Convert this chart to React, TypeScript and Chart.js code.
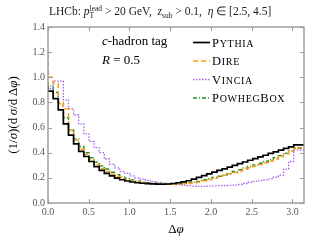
import React, { useEffect, useRef } from "react";
import { Chart, registerables } from "chart.js";

Chart.register(...registerables);

const NBINS = 50;
const XMAX = Math.PI;
const xTicks = [0, 0.5, 1.0, 1.5, 2.0, 2.5, 3.0];
const yTicks = [0, 0.2, 0.4, 0.6, 0.8, 1.0, 1.2, 1.4];

const pythia = [
  0.93, 0.89, 0.83, 0.74, 0.63, 0.54, 0.47, 0.41, 0.37, 0.33,
  0.29, 0.26, 0.235, 0.215, 0.198, 0.185, 0.175, 0.167, 0.161, 0.157,
  0.154, 0.152, 0.150, 0.149, 0.151, 0.155, 0.161, 0.168, 0.177, 0.19,
  0.204, 0.218, 0.232, 0.245, 0.259, 0.272, 0.286, 0.299, 0.313, 0.326,
  0.34, 0.353, 0.367, 0.38, 0.394, 0.407, 0.42, 0.434, 0.447, 0.462,
];
const dire = [
  1.19, 1.0, 0.95, 0.8, 0.75, 0.58, 0.5, 0.43, 0.385, 0.345,
  0.305, 0.275, 0.25, 0.228, 0.21, 0.195, 0.183, 0.174, 0.167, 0.161,
  0.157, 0.154, 0.152, 0.151, 0.15, 0.15, 0.151, 0.153, 0.156, 0.16,
  0.166, 0.177, 0.186, 0.196, 0.207, 0.219, 0.231, 0.243, 0.255, 0.268,
  0.28, 0.293, 0.306, 0.32, 0.335, 0.35, 0.368, 0.39, 0.415, 0.44,
];
const vincia = [
  0.9, 0.91, 0.97, 0.97, 0.82, 0.75, 0.7, 0.63, 0.55, 0.49,
  0.44, 0.4, 0.35, 0.31, 0.28, 0.25, 0.235, 0.215, 0.2, 0.19,
  0.18, 0.17, 0.163, 0.157, 0.152, 0.15, 0.147, 0.143, 0.138, 0.134,
  0.132, 0.133, 0.135, 0.137, 0.138, 0.139, 0.14, 0.142, 0.147, 0.155,
  0.165, 0.172, 0.178, 0.184, 0.192, 0.205, 0.222, 0.27, 0.33, 0.42,
];
const powheg = [
  0.96, 0.93, 0.88, 0.79, 0.68, 0.58, 0.51, 0.45, 0.4, 0.36,
  0.325, 0.295, 0.27, 0.245, 0.225, 0.208, 0.195, 0.184, 0.175, 0.168,
  0.162, 0.158, 0.155, 0.153, 0.152, 0.152, 0.153, 0.156, 0.16, 0.165,
  0.171, 0.185, 0.193, 0.203, 0.213, 0.224, 0.236, 0.25, 0.265, 0.278,
  0.29, 0.303, 0.316, 0.33, 0.345, 0.36, 0.377, 0.395, 0.415, 0.435,
];

const seriesNames = ["Pythia", "Dire", "Vincia", "PowhegBox"];
const colors = ["#000000", "#ff9a1a", "#a860f0", "#1f8f1f"];
const dashes: number[][] = [[], [5, 3], [1.5, 1.5], [4, 2, 1, 2]];
const widths = [1.7, 1.5, 1.3, 1.4];

const FAM = "'Liberation Serif', serif";

type Seg = { t: string; s: number; i?: boolean; dy?: number; stack?: boolean };

function richWidth(ctx: CanvasRenderingContext2D, segs: Seg[]) {
  let x = 0, lastStart = 0;
  for (const sg of segs) {
    ctx.font = `${sg.i ? "italic " : ""}${sg.s}px ${FAM}`;
    const w = ctx.measureText(sg.t).width;
    const start = sg.stack ? lastStart : x;
    if (sg.stack) x = Math.max(x, start + w);
    else { lastStart = start; x = start + w; }
  }
  return x;
}

function drawRich(ctx: CanvasRenderingContext2D, x0: number, y: number, segs: Seg[]) {
  let x = x0, lastStart = x0;
  ctx.textBaseline = "alphabetic";
  ctx.textAlign = "left";
  for (const sg of segs) {
    ctx.font = `${sg.i ? "italic " : ""}${sg.s}px ${FAM}`;
    const w = ctx.measureText(sg.t).width;
    const start = sg.stack ? lastStart : x;
    ctx.fillText(sg.t, start, y + (sg.dy || 0));
    if (sg.stack) x = Math.max(x, start + w);
    else { lastStart = start; x = start + w; }
  }
  return x;
}

function smallCaps(name: string): Seg[] {
  const segs: Seg[] = [];
  for (const ch of name) {
    if (ch === ch.toUpperCase()) segs.push({ t: ch, s: 12.5 });
    else {
      const last = segs[segs.length - 1];
      if (last && last.s === 10) last.t += ch.toUpperCase();
      else segs.push({ t: ch.toUpperCase(), s: 10 });
    }
  }
  return segs;
}

function toSteps(vals: number[]) {
  const w = XMAX / NBINS;
  const pts = vals.map((v, i) => ({ x: i * w, y: v }));
  pts.push({ x: XMAX, y: vals[vals.length - 1] });
  return pts;
}

const overlay = {
  id: "overlay",
  afterDraw(chart: any) {
    const ctx: CanvasRenderingContext2D = chart.ctx;
    const { left, right, top, bottom } = chart.chartArea;
    const xs = chart.scales.x, ys = chart.scales.y;
    ctx.save();
    // frame
    ctx.strokeStyle = "#999";
    ctx.lineWidth = 1.4;
    ctx.strokeRect(left, top, right - left, bottom - top);
    ctx.lineWidth = 1;
    ctx.beginPath();
    for (const t of xTicks) {
      const px = Math.round(xs.getPixelForValue(t)) + 0.5;
      ctx.moveTo(px, bottom); ctx.lineTo(px, bottom - 4);
      ctx.moveTo(px, top); ctx.lineTo(px, top + 4);
    }
    for (const t of yTicks) {
      const py = Math.round(ys.getPixelForValue(t)) + 0.5;
      ctx.moveTo(left, py); ctx.lineTo(left + 4, py);
      ctx.moveTo(right, py); ctx.lineTo(right - 4, py);
    }
    ctx.stroke();

    ctx.fillStyle = "#222";
    // title
    drawRich(ctx, 49, 15, [
      { t: "LHCb: ", s: 11.5 },
      { t: "p", s: 11.5, i: true },
      { t: "lead", s: 7.5, dy: -4.5 },
      { t: "T", s: 7.5, dy: 2.5, stack: true },
      { t: " > 20 GeV,  ", s: 11.5 },
      { t: "z", s: 11.5, i: true },
      { t: "sub", s: 7.5, dy: 2.5 },
      { t: " > 0.1,  ", s: 11.5 },
      { t: "η", s: 11.5, i: true },
      { t: " ∈ [2.5, 4.5]", s: 11.5 },
    ]);

    ctx.fillStyle = "#000";
    drawRich(ctx, 102, 45, [
      { t: "c", s: 13, i: true },
      { t: "-hadron tag", s: 13 },
    ]);
    drawRich(ctx, 102, 64, [
      { t: "R", s: 13, i: true },
      { t: " = 0.5", s: 13 },
    ]);

    // legend
    const ly = [42.5, 61, 79.5, 98];
    for (let k = 0; k < 4; k++) {
      ctx.strokeStyle = colors[k];
      ctx.lineWidth = widths[k];
      ctx.setLineDash(dashes[k]);
      ctx.beginPath();
      ctx.moveTo(193, ly[k]);
      ctx.lineTo(210, ly[k]);
      ctx.stroke();
      ctx.setLineDash([]);
      ctx.fillStyle = "#000";
      (ctx as any).letterSpacing = "0.7px";
      drawRich(ctx, 212, ly[k] + 4, smallCaps(seriesNames[k]));
      (ctx as any).letterSpacing = "0px";
    }

    // x title
    const xt: Seg[] = [{ t: "Δ", s: 13 }, { t: "φ", s: 13, i: true }];
    const xw = richWidth(ctx, xt);
    drawRich(ctx, (left + right) / 2 - xw / 2, 233, xt);

    // y title
    const yt: Seg[] = [
      { t: "(1/", s: 13 },
      { t: "σ", s: 13, i: true },
      { t: ")(d\u2009", s: 13 },
      { t: "σ", s: 13, i: true },
      { t: "/d\u2009Δ", s: 13 },
      { t: "φ", s: 13, i: true },
      { t: ")", s: 13 },
    ];
    const yw = richWidth(ctx, yt);
    ctx.translate(17, (top + bottom) / 2);
    ctx.rotate(-Math.PI / 2);
    drawRich(ctx, -yw / 2, 0, yt);
    ctx.restore();
  },
};

export default function App() {
  const ref = useRef<HTMLCanvasElement>(null);
  useEffect(() => {
    document.body.style.margin = "0";
    const all = [pythia, dire, vincia, powheg];
    const chart = new Chart(ref.current!, {
      type: "line",
      data: {
        datasets: all.map((vals, k) => ({
          label: seriesNames[k],
          data: toSteps(vals),
          stepped: "after" as const,
          borderColor: colors[k],
          borderWidth: widths[k],
          borderDash: dashes[k],
          pointRadius: 0,
          fill: false,
        })),
      },
      options: {
        responsive: false,
        animation: false,
        layout: { padding: { top: 27, right: 16, left: 0, bottom: 0 } },
        plugins: { legend: { display: false }, tooltip: { enabled: false }, title: { display: false } },
        scales: {
          x: {
            type: "linear",
            min: 0,
            max: XMAX,
            grid: { display: false, drawTicks: false },
            border: { display: false },
            ticks: {
              stepSize: 0.5,
              includeBounds: false,
              maxRotation: 0,
              autoSkip: false,
              padding: 3,
              color: "#555",
              font: { family: FAM, size: 10 },
              callback: (v: any) => Number(v).toFixed(1),
            },
            afterFit: (s: any) => { s.height = 37; },
          },
          y: {
            min: 0,
            max: 1.4,
            grid: { display: false, drawTicks: false },
            border: { display: false },
            ticks: {
              stepSize: 0.2,
              padding: 3,
              color: "#555",
              font: { family: FAM, size: 10 },
              callback: (v: any) => Number(v).toFixed(1),
            },
            afterFit: (s: any) => { s.width = 48; },
          },
        },
      },
      plugins: [overlay],
    });
    return () => chart.destroy();
  }, []);
  return <canvas ref={ref} width={320} height={240} style={{ display: "block" }} />;
}
